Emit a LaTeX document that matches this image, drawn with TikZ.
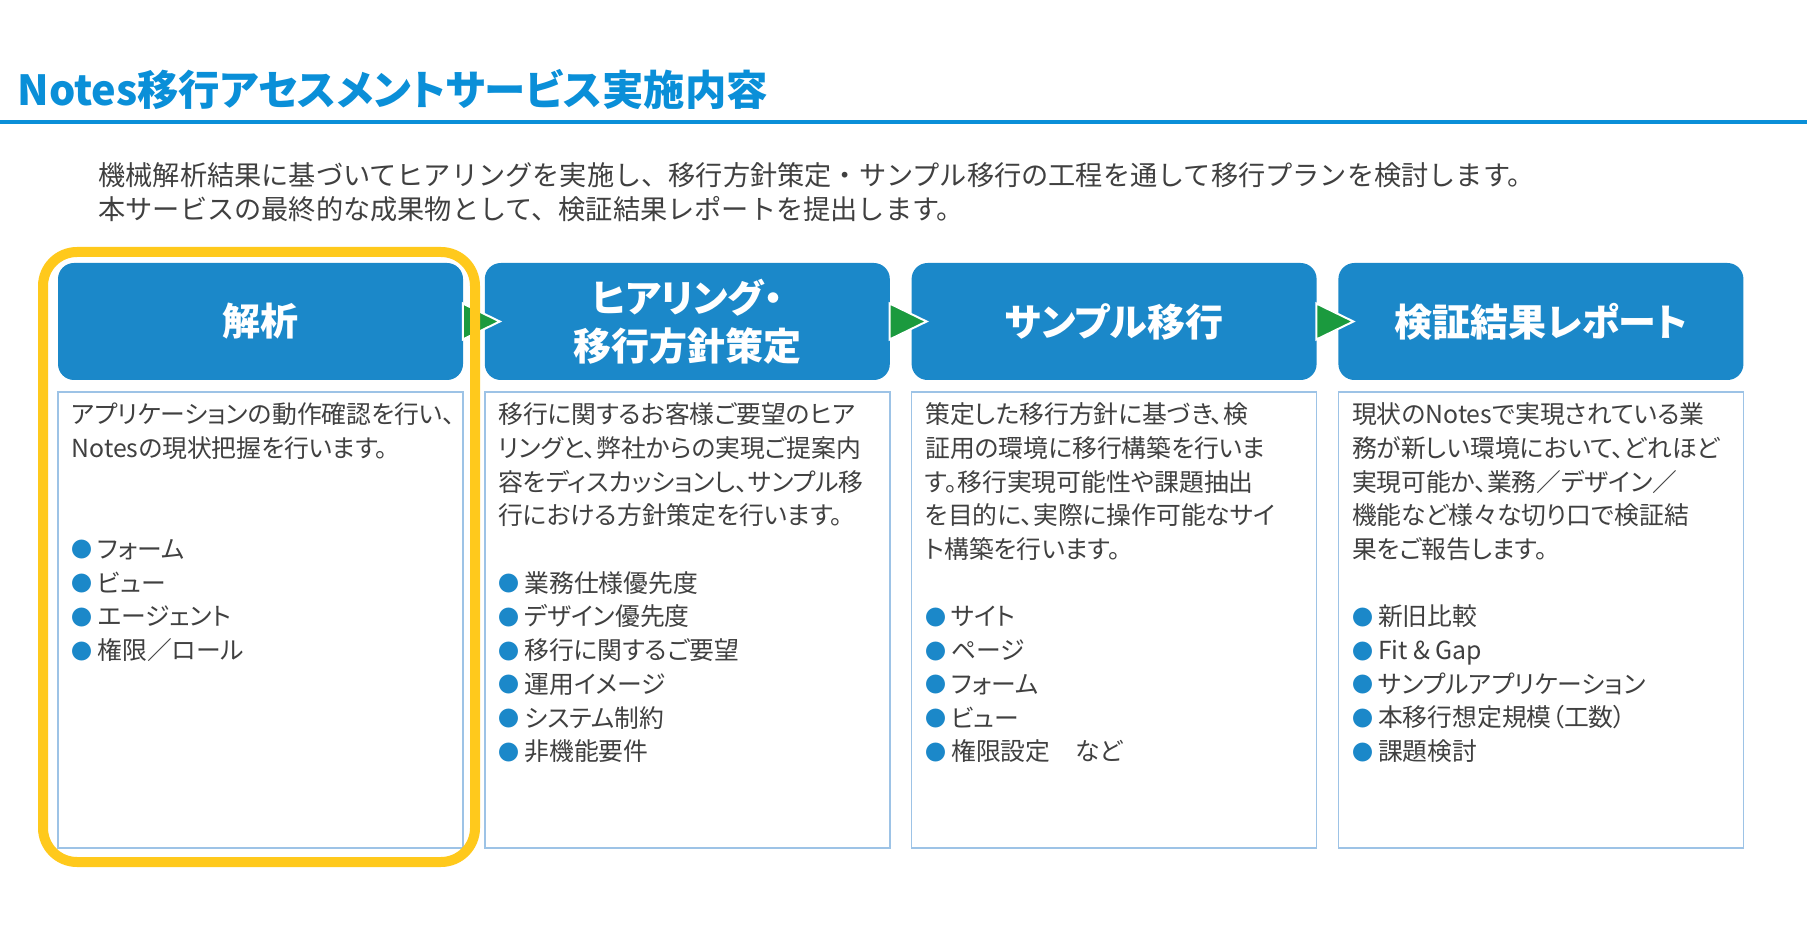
\documentclass[tikz,border=0pt]{standalone}
\usepackage{fontspec}
\newfontfamily\jp{Noto Sans CJK JP}[RawFeature=+palt]
\newfontfamily\jpfull{Noto Sans CJK JP}
\usetikzlibrary{positioning,shapes.geometric}
\definecolor{titleblue}{HTML}{0A8FD8}
\definecolor{headblue}{HTML}{1B88C9}
\definecolor{arrowgreen}{HTML}{1B9A3E}
\definecolor{markyellow}{HTML}{FFC91C}
\definecolor{boxline}{HTML}{9DC3E6}
\definecolor{bodytext}{HTML}{404040}
\newcommand{\bul}{\textcolor{headblue}{\raisebox{0.02em}{\fontsize{10.5pt}{0pt}\selectfont ●}}\hspace{2.5pt}}

\begin{document}
\begin{tikzpicture}[x=0.5pt, y=-0.5pt, every node/.style={font=\jp},
  head/.style={fill=headblue, rounded corners=8pt, minimum width=202.5pt, minimum height=58.5pt,
    text=white, align=center, font=\jp\bfseries\fontsize{19pt}{24pt}\selectfont},
  body/.style={draw=boxline, line width=0.8pt, minimum width=202.5pt, minimum height=228pt},
  txt/.style={anchor=north west, align=left, inner sep=0pt, text=bodytext,
    font=\jp\fontsize{12.4pt}{16.85pt}\selectfont},
  tri/.style={isosceles triangle, isosceles triangle stretches, fill=arrowgreen, draw=white,
    line width=1pt, minimum width=18pt, minimum height=18.5pt, inner sep=0pt, anchor=apex}]
  \path[use as bounding box, fill=white] (0,0) rectangle (1807,945);

  \node[anchor=west, inner sep=0pt, text=titleblue, font=\jp\bfseries\fontsize{20.7pt}{24pt}\selectfont]
    (title) at (17,90) {Notes移行アセスメントサービス実施内容};
  \draw[titleblue, line width=1.75pt] (0,122) -- (1807,122);
  \node[anchor=west, align=left, inner sep=0pt, text=bodytext, font=\jpfull\fontsize{13.6pt}{17pt}\selectfont]
    (lead) at (98,192) {機械解析結果に基づいてヒアリングを実施し、移行方針策定・サンプル移行の工程を通して移行プランを検討します。\\
    本サービスの最終的な成果物として、検証結果レポートを提出します。};

  \node[head] (h1) at (260.5,321.5) {解析};
  \node[head, right=10.5pt of h1] (h2) {ヒアリング・\\移行方針策定};
  \node[head, right=10.5pt of h2] (h3) {サンプル移行};
  \node[head, right=10.5pt of h3] (h4) {検証結果レポート};

  \node[body, below=5.5pt of h1] (b1) {};
  \node[body, below=5.5pt of h2] (b2) {};
  \node[body, below=5.5pt of h3] (b3) {};
  \node[body, below=5.5pt of h4] (b4) {};

  \node[txt] (t1) at ([xshift=7pt,yshift=-5.5pt]b1.north west) {アプリケーションの動作確認を行い、\\
    Notesの現状把握を行います。\\ ~\\ ~\\
    \bul フォーム\\ \bul ビュー\\ \bul エージェント\\ \bul 権限／ロール};
  \node[txt] (t2) at ([xshift=7pt,yshift=-5.5pt]b2.north west) {移行に関するお客様ご要望のヒア\\
    リングと、弊社からの実現ご提案内\\ 容をディスカッションし、サンプル移\\
    行における方針策定を行います。\\ ~\\
    \bul 業務仕様優先度\\ \bul デザイン優先度\\ \bul 移行に関するご要望\\
    \bul 運用イメージ\\ \bul システム制約\\ \bul 非機能要件};
  \node[txt] (t3) at ([xshift=7pt,yshift=-5.5pt]b3.north west) {策定した移行方針に基づき、検\\
    証用の環境に移行構築を行いま\\ す。移行実現可能性や課題抽出\\
    を目的に、実際に操作可能なサイ\\ ト構築を行います。\\ ~\\
    \bul サイト\\ \bul ページ\\ \bul フォーム\\ \bul ビュー\\ \bul 権限設定　など};
  \node[txt] (t4) at ([xshift=7pt,yshift=-5.5pt]b4.north west) {現状のNotesで実現されている業\\
    務が新しい環境において、どれほど\\ 実現可能か、業務／デザイン／\\
    機能など様々な切り口で検証結\\ 果をご報告します。\\ ~\\
    \bul 新旧比較\\ \bul Fit \& Gap\\ \bul サンプルアプリケーション\\
    \bul 本移行想定規模（工数）\\ \bul 課題検討};

  \node[tri, xshift=9pt] (a12) at (h2.west) {};
  \node[tri, xshift=9pt] (a23) at (h3.west) {};
  \node[tri, xshift=9pt] (a34) at (h4.west) {};

  \draw[markyellow, line width=5pt, rounded corners=17pt] (43,252) rectangle (475,862);
\end{tikzpicture}
\end{document}
